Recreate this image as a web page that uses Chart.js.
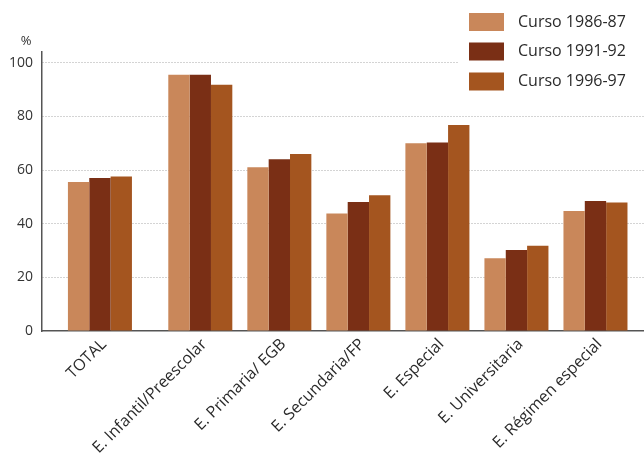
<!DOCTYPE html>
<html><head><meta charset="utf-8">
<script src="https://cdn.jsdelivr.net/npm/chart.js@4"></script>
<style>html,body{margin:0;padding:0;background:#fff}#wrap{width:644px;height:455px;position:relative}</style>
</head><body><div id="wrap"><canvas id="c" width="644" height="455"></canvas></div>
<script>
const categories = ["TOTAL","E. Infantil/Preescolar","E. Primaria/ EGB","E. Secundaria/FP","E. Especial","E. Universitaria","E. Régimen especial"];
const seriesLabels = ["Curso 1986-87","Curso 1991-92","Curso 1996-97"];
const curso8687 = [55.5, 95.5, 61.0, 43.8, 70.0, 27.1, 44.7];
const curso9192 = [57.0, 95.5, 64.0, 48.1, 70.3, 30.2, 48.5];
const curso9697 = [57.6, 91.8, 66.0, 50.6, 76.8, 31.8, 47.9];
const yTicks = [0, 20, 40, 60, 80, 100];

const colors = ["#C9875A", "#7A2F15", "#A4551F"];
const FONT = "'Open Sans', sans-serif";
// TOTAL is separated from the rest by an extra gap
const pos = categories.map((c, i) => i === 0 ? 0 : i + 0.27);
const seriesData = [curso8687, curso9192, curso9697];

const datasets = seriesData.map((arr, k) => ({
  label: seriesLabels[k],
  data: arr.map((v, i) => ({x: pos[i], y: v})),
  backgroundColor: colors[k],
  borderWidth: 0,
  barPercentage: 1,
  categoryPercentage: 0.81
}));

const overlay = {
  id: 'overlay',
  afterDraw(chart) {
    const ctx = chart.ctx;
    ctx.save();
    ctx.fillStyle = '#fff';
    ctx.fillRect(458, 0, 186, 98);
    ctx.font = "16px " + FONT;
    ctx.textBaseline = 'middle';
    ctx.textAlign = 'left';
    const rows = [22, 51.5, 81.5];
    seriesLabels.forEach((l, k) => {
      ctx.fillStyle = colors[k];
      ctx.fillRect(469, rows[k] - 9, 35, 18);
      ctx.fillStyle = '#2a2a2a';
      ctx.fillText(l, 518, rows[k]);
    });
    ctx.font = "13px " + FONT;
    ctx.fillStyle = '#333';
    ctx.textAlign = 'center';
    ctx.fillText('%', 26, 41);
    ctx.restore();
  }
};

new Chart(document.getElementById('c'), {
  type: 'bar',
  data: { datasets },
  options: {
    responsive: false,
    animation: false,
    layout: { padding: { top: 52, right: 0, left: 0, bottom: 0 } },
    plugins: { legend: { display: false }, tooltip: { enabled: false } },
    scales: {
      x: {
        type: 'linear',
        min: -0.733, max: 6.884,
        offset: false,
        afterBuildTicks(axis) { axis.ticks = pos.map(v => ({value: v})); },
        afterFit(axis) { axis.height = 124; },
        grid: { display: false, drawTicks: false },
        border: { display: true, color: '#555', width: 1.5 },
        ticks: {
          autoSkip: false,
          minRotation: 45, maxRotation: 45,
          padding: 4,
          labelOffset: 4,
          color: '#2a2a2a',
          font: { family: FONT, size: 16 },
          callback: (v, i) => categories[i]
        }
      },
      y: {
        min: 0, max: 104,
        afterBuildTicks(axis) { axis.ticks = yTicks.map(v => ({value: v})); },
        afterFit(axis) { axis.width = 42; },
        grid: {
          drawTicks: false,
          color: ctx => (ctx.tick && ctx.tick.value > 0) ? '#a8a8a8' : 'rgba(0,0,0,0)',
          lineWidth: 1
        },
        border: { display: true, color: '#555', width: 1.5, dash: [1, 2] },
        ticks: {
          padding: 9,
          color: '#333',
          font: { family: FONT, size: 14 }
        }
      }
    }
  },
  plugins: [overlay]
});
</script>
</body></html>
